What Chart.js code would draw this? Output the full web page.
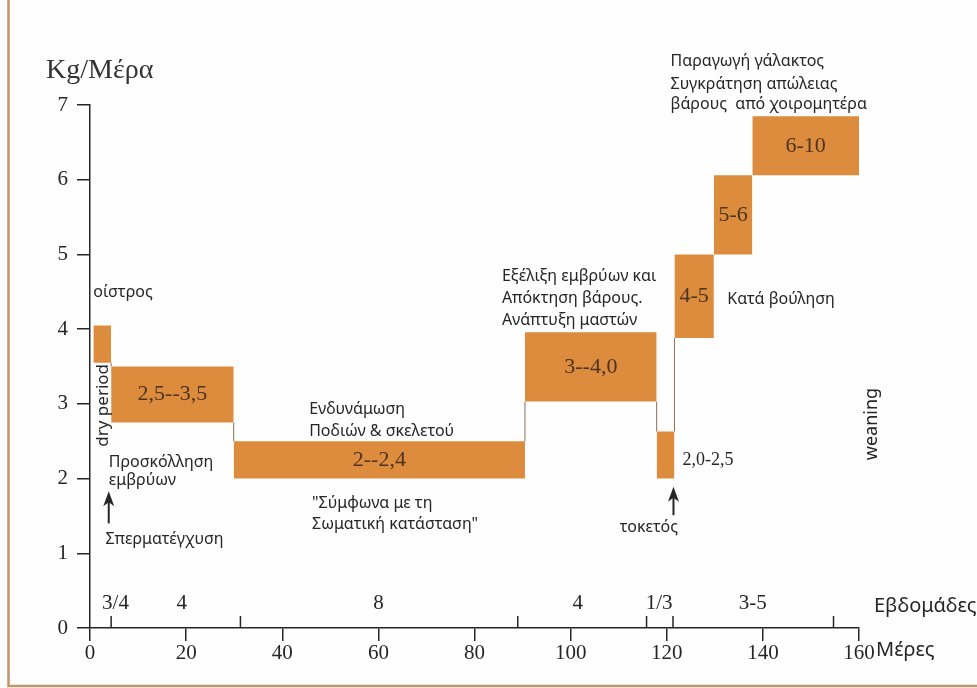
<!DOCTYPE html>
<html>
<head>
<meta charset="utf-8">
<script src="https://cdn.jsdelivr.net/npm/chart.js@4.4.0/dist/chart.umd.min.js"></script>
<style>
  html, body { margin: 0; padding: 0; background: #fff; }
</style>
</head>
<body>
<canvas id="feedChart" width="977" height="688"></canvas>
<script>
// φάσεις σίτισης (ημέρες / kg ανά ημέρα)
const phaseStart = [0.7, 4.4, 29.9, 90.5, 117.9, 121.6, 129.8, 137.8];
const phaseEnd = [4.4, 29.9, 90.5, 117.9, 121.6, 129.8, 137.8, 160];
const feedLow = [3.55, 2.75, 2.0, 3.03, 2.0, 3.88, 5.0, 6.06];
const feedHigh = [4.05, 3.5, 2.5, 3.96, 2.63, 5.0, 6.06, 6.85];
const feedText = ["", "2,5--3,5", "2--2,4", "3--4,0", "", "4-5", "5-6", "6-10"];

// εβδομάδες
const weekBounds = [4.4, 31.3, 89, 115.8, 121.3, 154.7];
const weekLabels = ["3/4", "4", "8", "4", "1/3", "3-5"];
const weekCenters = [5.3, 19.1, 60, 101.5, 118.4, 137.9];

const dayTicks = [0, 20, 40, 60, 80, 100, 120, 140, 160];
const kgTicks = [0, 1, 2, 3, 4, 5, 6, 7];

const SERIF = "'Liberation Serif', 'DejaVu Serif', serif";
const SANS = "'Noto Sans', 'DejaVu Sans', sans-serif";
const INK = "#262626";
const ORANGE = "rgb(221,139,60)";

// σημειώσεις πάνω στο διάγραμμα
const notes = [
  { t: "οίστρος", x: 0.7, y: 4.49 },
  { t: "Προσκόλληση", x: 3.9, y: 2.21 },
  { t: "εμβρύων", x: 3.9, y: 1.98 },
  { t: "Σπερματέγχυση", x: 3.2, y: 1.19 },
  { t: "Ενδυνάμωση", x: 45.6, y: 2.92 },
  { t: "Ποδιών & σκελετού", x: 45.6, y: 2.63 },
  { t: "\"Σύμφωνα με τη", x: 46.2, y: 1.67 },
  { t: "Σωματική κατάσταση\"", x: 46.2, y: 1.38 },
  { t: "Εξέλιξη εμβρύων και", x: 85.7, y: 4.71 },
  { t: "Απόκτηση βάρους.", x: 85.7, y: 4.41 },
  { t: "Ανάπτυξη μαστών", x: 85.7, y: 4.12 },
  { t: "τοκετός", x: 116.3, y: 1.35, align: "center" },
  { t: "Κατά βούληση", x: 132.6, y: 4.40 },
  { t: "Παραγωγή γάλακτος", x: 120.8, y: 7.58 },
  { t: "Συγκράτηση απώλειας", x: 120.8, y: 7.28 },
  { t: "βάρους  από χοιρομητέρα", x: 120.8, y: 7.01 },
  { t: "dry period", x: 2.8, y: 2.98, rot: true, align: "center", size: 17 },
  { t: "weaning", x: 162.6, y: 2.73, rot: true, align: "center", size: 18 },
  { t: "2,0-2,5", x: 123.3, y: 2.25, serif: true, size: 18 }
];
const arrows = [
  { x: 3.9, tip: 1.83, tail: 1.40 },
  { x: 121.4, tip: 1.89, tail: 1.51 }
];

// datasets: κάθε φάση = πάνω γραμμή γεμάτη ως την κάτω
const datasets = [];
phaseStart.forEach((s, i) => {
  const e = phaseEnd[i];
  datasets.push({
    data: [{ x: s, y: feedHigh[i] }, { x: e, y: feedHigh[i] }],
    fill: "+1",
    backgroundColor: ORANGE,
    borderColor: "rgba(0,0,0,0)",
    borderWidth: 0,
    pointRadius: 0
  });
  datasets.push({
    data: [{ x: s, y: feedLow[i] }, { x: e, y: feedLow[i] }],
    fill: false,
    borderColor: "rgba(0,0,0,0)",
    borderWidth: 0,
    pointRadius: 0
  });
});

// κάθετες ενώσεις ανάμεσα στις φάσεις
const linkPts = [];
for (let i = 0; i < phaseStart.length - 1; i++) {
  let a = null, b = null;
  if (feedHigh[i + 1] < feedLow[i]) { a = feedHigh[i + 1]; b = feedLow[i]; }
  else if (feedHigh[i] < feedLow[i + 1]) { a = feedHigh[i]; b = feedLow[i + 1]; }
  if (a !== null) {
    linkPts.push({ x: phaseEnd[i], y: a }, { x: phaseEnd[i], y: b }, { x: phaseEnd[i], y: null });
  }
}
datasets.push({
  data: linkPts, fill: false, borderColor: "#8c6f55", borderWidth: 1,
  pointRadius: 0, spanGaps: false
});

// γραμμές εβδομάδων πάνω από τον άξονα
const weekPts = [];
weekBounds.forEach(b => {
  weekPts.push({ x: b, y: 0 }, { x: b, y: 0.16 }, { x: b, y: null });
});
datasets.push({
  data: weekPts, fill: false, borderColor: INK, borderWidth: 1.5,
  pointRadius: 0, spanGaps: false
});

const decor = {
  id: "decor",
  beforeDraw(chart) {
    const c = chart.ctx;
    c.save();
    c.fillStyle = "#fefefe";
    c.fillRect(0, 0, chart.width, chart.height);
    c.strokeStyle = "#bf966b";
    c.lineWidth = 2.5;
    c.beginPath();
    c.moveTo(8.5, 0);
    c.lineTo(8.5, 686);
    c.lineTo(chart.width, 686);
    c.stroke();
    c.restore();
  },
  afterDatasetsDraw(chart) {
    const c = chart.ctx;
    const xs = chart.scales.x, ys = chart.scales.y;
    c.save();
    c.textBaseline = "middle";

    // τιμές μέσα στις μπάρες
    c.fillStyle = "#4a3422";
    c.font = "22px " + SERIF;
    c.textAlign = "center";
    feedText.forEach((t, i) => {
      if (!t) return;
      const px = xs.getPixelForValue((phaseStart[i] + phaseEnd[i]) / 2);
      const py = ys.getPixelForValue((feedLow[i] + feedHigh[i]) / 2);
      c.fillText(t, px, py);
    });

    // ετικέτες εβδομάδων
    c.fillStyle = INK;
    c.font = "21px " + SERIF;
    weekLabels.forEach((t, i) => {
      c.fillText(t, xs.getPixelForValue(weekCenters[i]), ys.getPixelForValue(0.33));
    });

    // σημειώσεις
    notes.forEach(n => {
      c.font = (n.size || 16) + "px " + (n.serif ? SERIF : SANS);
      c.textAlign = n.align || "left";
      const px = xs.getPixelForValue(n.x), py = ys.getPixelForValue(n.y);
      if (n.rot) {
        c.save();
        c.translate(px, py);
        c.rotate(-Math.PI / 2);
        c.fillText(n.t, 0, 0);
        c.restore();
      } else {
        c.fillText(n.t, px, py);
      }
    });

    // βέλη
    c.strokeStyle = INK;
    c.lineWidth = 2;
    arrows.forEach(a => {
      const px = xs.getPixelForValue(a.x);
      const tip = ys.getPixelForValue(a.tip), tail = ys.getPixelForValue(a.tail);
      c.beginPath();
      c.moveTo(px, tail);
      c.lineTo(px, tip + 8);
      c.stroke();
      c.beginPath();
      c.moveTo(px, tip);
      c.lineTo(px - 5.5, tip + 15);
      c.lineTo(px, tip + 11);
      c.lineTo(px + 5.5, tip + 15);
      c.closePath();
      c.fill();
    });

    // τίτλοι αξόνων
    c.textAlign = "left";
    c.font = "28px " + SERIF;
    c.fillStyle = "#333";
    c.fillText("Kg/Μέρα", 46, 71);
    c.font = "20px " + SANS;
    c.fillStyle = INK;
    c.fillText("Εβδομάδες", 874, 606);
    c.fillText("Μέρες", 876, 650);
    c.restore();
  }
};

new Chart(document.getElementById("feedChart"), {
  type: "line",
  data: { datasets },
  plugins: [decor],
  options: {
    responsive: false,
    animation: false,
    layout: { padding: { top: 105, right: 118, left: 0, bottom: 0 } },
    plugins: { legend: { display: false }, tooltip: { enabled: false } },
    scales: {
      x: {
        type: "linear",
        min: 0,
        max: 160,
        afterBuildTicks: s => { s.ticks = dayTicks.map(v => ({ value: v })); },
        afterFit: s => { s.height = 60; },
        border: { color: INK, width: 1.5 },
        grid: { drawOnChartArea: false, tickLength: 13, color: INK, lineWidth: 1.5 },
        ticks: { font: { family: SERIF, size: 21 }, color: INK, padding: 0, maxRotation: 0, autoSkip: false }
      },
      y: {
        min: 0,
        max: 7,
        afterBuildTicks: s => { s.ticks = kgTicks.map(v => ({ value: v })); },
        afterFit: s => { s.width = 90; },
        border: { color: INK, width: 1.5 },
        grid: { drawOnChartArea: false, tickLength: 13, color: INK, lineWidth: 1.5 },
        ticks: { font: { family: SERIF, size: 21 }, color: INK, padding: 9 }
      }
    }
  }
});
</script>
</body>
</html>
